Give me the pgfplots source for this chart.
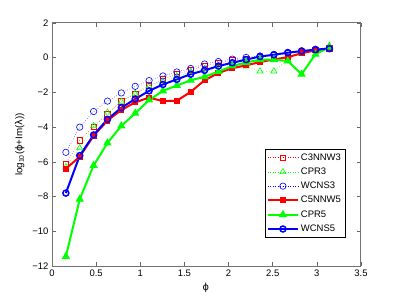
\documentclass[border=0pt]{standalone}
\usepackage{pgfplots}
\pgfplotsset{compat=1.18}
\usepackage{fontspec}
\setmainfont{Liberation Sans}
\newfontfamily\dejavu{DejaVu Sans}
\begin{document}
\begin{tikzpicture}
\begin{axis}[
  name=ax,
  scale only axis,
  width=309bp, height=243bp,
  xmin=0, xmax=3.5, ymin=-12, ymax=2,
  xtick={0,0.5,1,1.5,2,2.5,3,3.5},
  xticklabels={0,0.5,1,1.5,2,2.5,3,3.5},
  ytick={-12,-10,-8,-6,-4,-2,0,2},
  yticklabels={−12,−10,−8,−6,−4,−2,0,2},
  tick align=inside,
  major tick length=4bp,
  tick style={black!60, line width=0.6bp},
  axis line style={black!55, line width=1bp},
  ticklabel style={font=\fontsize{9.5}{11}\selectfont},
  xlabel={{\dejavu ϕ}},
  ylabel={log\textsubscript{10}({\dejavu ϕ}+Im({\dejavu λ}))},
  label style={font=\fontsize{9.8}{11}\selectfont},
  xlabel style={at={(axis description cs:0.498,-0.055)}, anchor=north},
  ylabel style={at={(axis description cs:-0.078,0.5)}, anchor=south},
  legend style={at={(axis cs:3.321,-10.35)}, anchor=south east, font=\fontsize{9.5}{11}\selectfont, draw=black, line width=0.6bp, inner sep=2bp, row sep=2.2bp},
  legend cell align=left,
  legend image code/.code={\draw[#1] (0bp,0bp) -- (15bp,0bp) -- (30bp,0bp); \draw[#1, only marks] plot coordinates {(15bp,0bp)};},
]
\addplot[red, dotted, line width=0.5bp, mark=square, mark size=2.7bp, mark options={solid, line width=0.6bp}] coordinates {
(0.1571,-6.15) (0.3142,-4.75) (0.4712,-3.97) (0.6283,-3.25) (0.7854,-2.5) (0.9425,-2.1) (1.0996,-1.6) (1.2566,-1.25) (1.4137,-0.95) (1.5708,-0.7) (1.7279,-0.47) (1.8850,-0.3) (2.0420,-0.15) (2.1991,-0.05) (2.3562,0.05) (2.5133,0.15) (2.6704,0.25) (2.8274,0.35) (2.9845,0.45) (3.1416,0.55)};
\addlegendentry{C3NNW3}
\addplot[green, dotted, line width=0.5bp, mark=triangle, mark size=3.5bp, mark options={solid, line width=0.6bp}] coordinates {
(0.1571,-6.3) (0.3142,-5.2) (0.4712,-3.93) (0.6283,-3.15) (0.7854,-2.53) (0.9425,-2.06) (1.0996,-1.64) (1.2566,-1.35) (1.4137,-1.07) (1.5708,-0.82) (1.7279,-0.65) (1.8850,-0.5) (2.0420,-0.45) (2.1991,-0.5) (2.3562,-0.78) (2.5133,-0.78) (2.6704,-0.1) (2.8274,0.23) (2.9845,0.42) (3.1416,0.7)};
\addlegendentry{CPR3}
\addplot[blue, dotted, line width=0.5bp, mark=o, mark size=3.2bp, mark options={solid, line width=0.6bp}] coordinates {
(0.1571,-5.45) (0.3142,-4.0) (0.4712,-3.1) (0.6283,-2.5) (0.7854,-2.03) (0.9425,-1.65) (1.0996,-1.32) (1.2566,-1.05) (1.4137,-0.82) (1.5708,-0.62) (1.7279,-0.36) (1.8850,-0.22) (2.0420,-0.08) (2.1991,0.02) (2.3562,0.1) (2.5133,0.19) (2.6704,0.3) (2.8274,0.4) (2.9845,0.48) (3.1416,0.54)};
\addlegendentry{WCNS3}
\addplot[red, solid, line width=2bp, mark=square*, mark size=2.5bp, mark options={fill=red, line width=1bp}] coordinates {
(0.1571,-6.4) (0.3142,-5.7) (0.4712,-4.5) (0.6283,-3.62) (0.7854,-3.01) (0.9425,-2.57) (1.0996,-2.3) (1.2566,-2.5) (1.4137,-2.48) (1.5708,-1.97) (1.7279,-1.3) (1.8850,-0.88) (2.0420,-0.6) (2.1991,-0.44) (2.3562,-0.25) (2.5133,-0.1) (2.6704,0.03) (2.8274,0.26) (2.9845,0.42) (3.1416,0.55)};
\addlegendentry{C5NNW5}
\addplot[green, solid, line width=2bp, mark=triangle*, mark size=3.8bp, mark options={fill=green, line width=1bp}] coordinates {
(0.1571,-11.45) (0.3142,-8.15) (0.4712,-6.21) (0.6283,-4.91) (0.7854,-3.93) (0.9425,-3.2) (1.0996,-2.44) (1.2566,-1.91) (1.4137,-1.6) (1.5708,-1.3) (1.7279,-1.1) (1.8850,-0.8) (2.0420,-0.48) (2.1991,-0.27) (2.3562,-0.12) (2.5133,-0.11) (2.6704,-0.19) (2.8274,-0.95) (2.9845,0.2) (3.1416,0.6)};
\addlegendentry{CPR5}
\addplot[blue, solid, line width=2bp, mark=o, mark size=3bp, mark options={line width=1.5bp}] coordinates {
(0.1571,-7.8) (0.3142,-5.64) (0.4712,-4.45) (0.6283,-3.55) (0.7854,-2.88) (0.9425,-2.38) (1.0996,-1.91) (1.2566,-1.54) (1.4137,-1.25) (1.5708,-0.95) (1.7279,-0.73) (1.8850,-0.48) (2.0420,-0.29) (2.1991,-0.11) (2.3562,0.07) (2.5133,0.17) (2.6704,0.29) (2.8274,0.38) (2.9845,0.47) (3.1416,0.52)};
\addlegendentry{WCNS5}
\end{axis}
\pgfresetboundingbox
\path (ax.south west) ++(-52bp,-33bp) coordinate (bl);
\path (ax.north east) ++(38bp,23bp) coordinate (tr);
\path[use as bounding box] (bl) rectangle (tr);
\end{tikzpicture}
\end{document}
